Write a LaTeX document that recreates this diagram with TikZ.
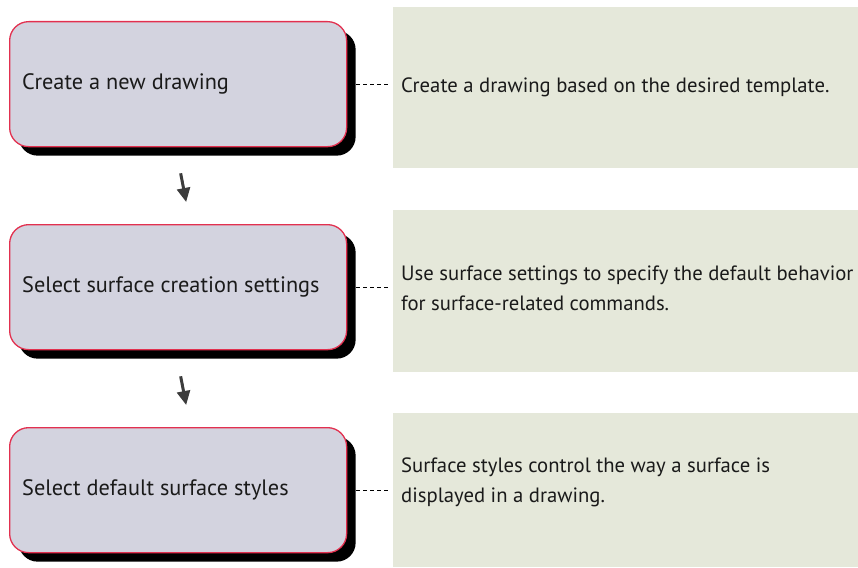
\documentclass[tikz,border=0pt]{standalone}
\usepackage{fontspec}
\setmainfont{PT Sans}
\usetikzlibrary{arrows.meta,shadows}
\definecolor{boxfill}{HTML}{D3D3DF}
\definecolor{boxline}{HTML}{E2304F}
\definecolor{panelfill}{HTML}{E5E8DA}
\definecolor{arrowc}{HTML}{3C3C3C}
\definecolor{txt}{HTML}{1A1A1A}
\tikzset{
  stepbox/.style={draw=boxline, line width=1.3pt, fill=boxfill, rounded corners=19pt,
    minimum width=337pt, minimum height=125pt, anchor=north west, inner sep=0pt,
    drop shadow={shadow xshift=9pt, shadow yshift=-9pt, fill=black, opacity=1}},
  boxtext/.style={anchor=west, font=\fontsize{22.3}{26}\selectfont, text=txt, inner sep=0pt},
  panel/.style={fill=panelfill, draw=none, anchor=north west, minimum width=465pt, inner sep=0pt},
  paneltext/.style={anchor=west, align=left, font=\fontsize{20.7}{30}\selectfont, text=txt, inner sep=0pt},
  link/.style={dashed, dash pattern=on 4pt off 3pt, line width=1pt, black},
  flow/.style={arrowc, line width=3pt, -{Triangle[width=13pt,length=14pt]}}
}
\begin{document}
\begin{tikzpicture}[x=1pt,y=-1pt]
\useasboundingbox (0,0) rectangle (858,567);
% panels
\node[panel, minimum height=161pt] (p1) at (393,7) {};
\node[panel, minimum height=162pt] (p2) at (393,210) {};
\node[panel, minimum height=154pt] (p3) at (393,413) {};
\node[paneltext] (t1) at ([xshift=8pt]p1.west) {Create a drawing based on the desired template.};
\node[paneltext] (t2) at ([xshift=8pt,yshift=3pt]p2.west) {Use surface settings to specify the default behavior\\for surface-related commands.};
\node[paneltext] (t3) at ([xshift=8pt,yshift=8pt]p3.west) {Surface styles control the way a surface is\\displayed in a drawing.};
% boxes
\node[stepbox] (b1) at (9,21) {};
\node[stepbox] (b2) at (9,224) {};
\node[stepbox] (b3) at (9,427) {};
\node[boxtext] (l1) at ([xshift=13pt]b1.west) {Create a new drawing};
\node[boxtext] (l2) at ([xshift=13pt]b2.west) {Select surface creation settings};
\node[boxtext] (l3) at ([xshift=13pt]b3.west) {Select default surface styles};
% dashed links
\draw[link] ([xshift=9pt]b1.east) -- ([xshift=-3pt]b1.east -| p1.west);
\draw[link] ([xshift=9pt]b2.east) -- ([xshift=-3pt]b2.east -| p2.west);
\draw[link] ([xshift=9pt]b3.east) -- ([xshift=-3pt]b3.east -| p3.west);
% flow arrows
\draw[flow] ([xshift=2.5pt,yshift=-26pt]b1.south) -- ([xshift=8pt,yshift=22pt]b2.north);
\draw[flow] ([xshift=2.5pt,yshift=-26pt]b2.south) -- ([xshift=8pt,yshift=22pt]b3.north);
\end{tikzpicture}
\end{document}
